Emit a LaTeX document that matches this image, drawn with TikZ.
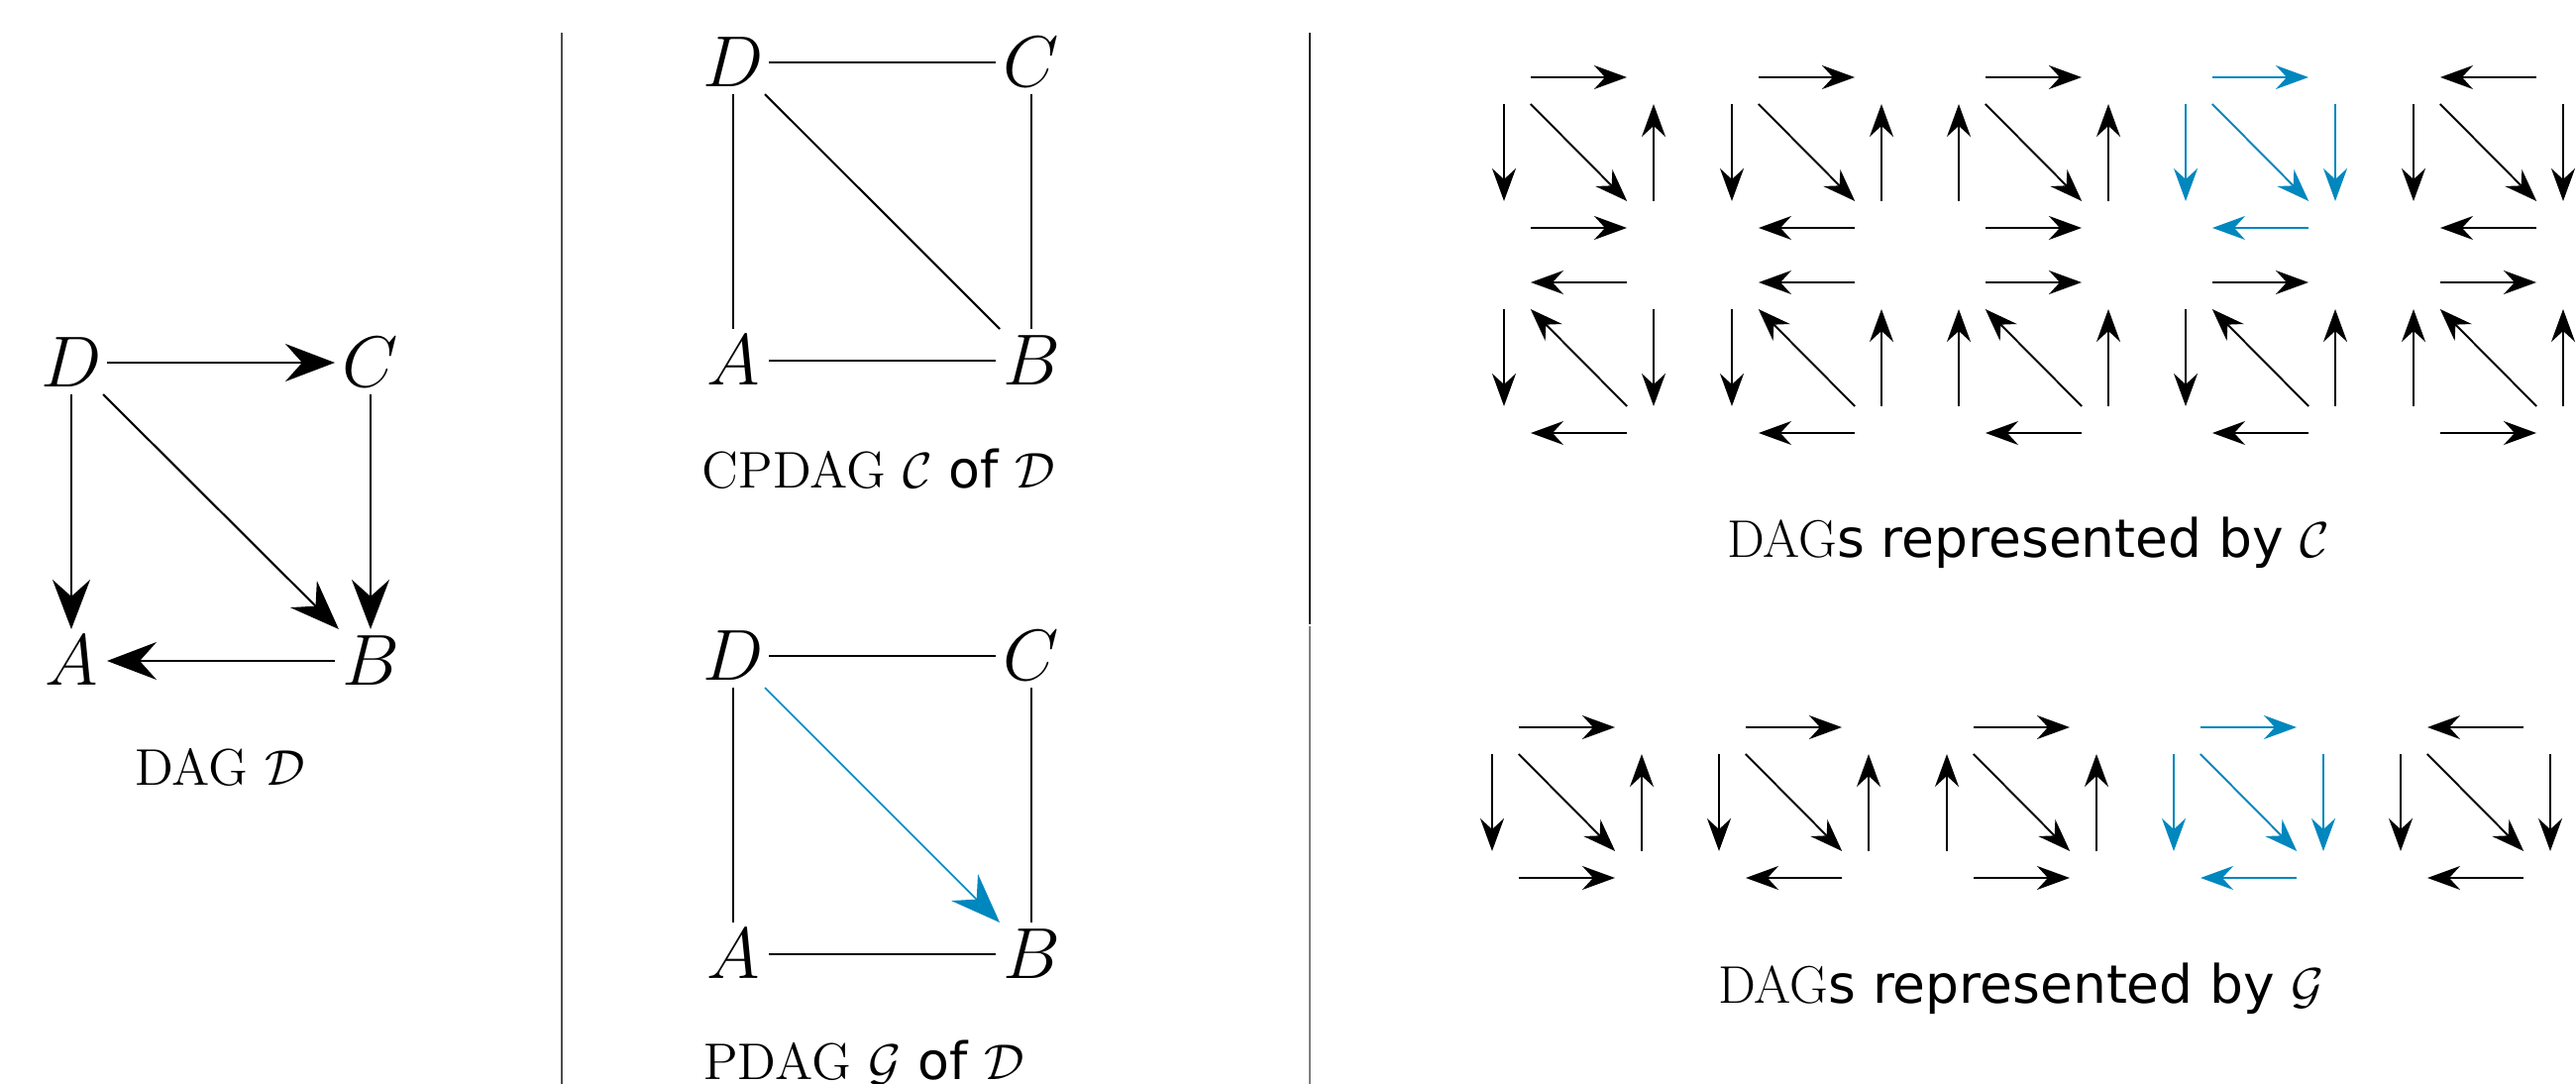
\documentclass[tikz,border=0pt]{standalone}
\usepackage{fontspec}
\newfontfamily\dvs{DejaVu Sans}
\usetikzlibrary{arrows.meta}
\definecolor{dblue}{HTML}{0087BE}
\newcommand\smalldag[9]{%
  \node[smallnode] (#1D) at (#2,#3) {};
  \node[smallnode] (#1C) at (#2+151,#3) {};
  \node[smallnode] (#1A) at (#2,#3+152) {};
  \node[smallnode] (#1B) at (#2+151,#3+152) {};
  \draw[smalledge,#9,#4] (#1D) -- (#1C);
  \draw[smalledge,#9,#5] (#1D) -- (#1A);
  \draw[smalledge,#9,#6] (#1D) -- (#1B);
  \draw[smalledge,#9,#7] (#1C) -- (#1B);
  \draw[smalledge,#9,#8] (#1A) -- (#1B);
}
\begin{document}
\begin{tikzpicture}[x=0.01cm,y=-0.01cm,
  bignode/.style={rectangle,inner sep=0pt,outer sep=0pt,minimum width=0.72cm,minimum height=0.64cm,font=\fontsize{22}{26}\selectfont},
  smallnode/.style={rectangle,inner sep=0pt,outer sep=0pt,minimum size=0.54cm},
  bigedge/.style={line width=0.6pt,>={Stealth[length=0.5cm,width=0.38cm,inset=0.17cm]}},
  smalledge/.style={line width=0.55pt,>={Stealth[length=0.33cm,width=0.24cm,inset=0.11cm]}},
  captext/.style={inner sep=0pt,anchor=base,font=\fontsize{14.8}{17}\selectfont},
  captextr/.style={inner sep=0pt,anchor=base,font=\fontsize{15.2}{18}\selectfont},
  ]
\useasboundingbox (0,0) rectangle (2600,1094);
\clip (0,0) rectangle (2600,1094);
% separators
\draw[line width=0.6pt,black!70] (567,33) -- (567,1094);
\draw[line width=0.6pt,black!85] (1322,33) -- (1322,630);
\draw[line width=0.6pt,black!50] (1322,632) -- (1322,1094);
% left DAG
\node[bignode] (lD) at (72,366) {$D$};
\node[bignode] (lC) at (374,366) {$C$};
\node[bignode] (lA) at (72,667) {$A$};
\node[bignode] (lB) at (374,667) {$B$};
\draw[bigedge,->] (lD) -- (lC);
\draw[bigedge,->] (lD) -- (lA);
\draw[bigedge,->] (lD) -- (lB);
\draw[bigedge,->] (lC) -- (lB);
\draw[bigedge,->] (lB) -- (lA);
\node[captext] (capL) at (222,792) {DAG $\mathcal{D}$};
% CPDAG
\node[bignode] (cD) at (740,63) {$D$};
\node[bignode] (cC) at (1041,63) {$C$};
\node[bignode] (cA) at (740,364) {$A$};
\node[bignode] (cB) at (1041,364) {$B$};
\draw[bigedge] (cD) -- (cC);
\draw[bigedge] (cD) -- (cA);
\draw[bigedge] (cD) -- (cB);
\draw[bigedge] (cC) -- (cB);
\draw[bigedge] (cA) -- (cB);
\node[captext] (capC) at (887,492) {CPDAG $\mathcal{C}$ {\dvs of} $\mathcal{D}$};
% PDAG
\node[bignode] (pD) at (740,662) {$D$};
\node[bignode] (pC) at (1041,662) {$C$};
\node[bignode] (pA) at (740,963) {$A$};
\node[bignode] (pB) at (1041,963) {$B$};
\draw[bigedge] (pD) -- (pC);
\draw[bigedge] (pD) -- (pA);
\draw[bigedge,->,dblue,line width=0.45pt] (pD) -- (pB);
\draw[bigedge] (pC) -- (pB);
\draw[bigedge] (pA) -- (pB);
\node[captext] (capP) at (872,1089) {PDAG $\mathcal{G}$ {\dvs of} $\mathcal{D}$};
% DAGs represented by C
\smalldag{ra}{1518}{78}{->}{->}{->}{<-}{->}{black}
\smalldag{rb}{1748}{78}{->}{->}{->}{<-}{<-}{black}
\smalldag{rc}{1977}{78}{->}{<-}{->}{<-}{->}{black}
\smalldag{rd}{2206}{78}{->}{->}{->}{->}{<-}{dblue}
\smalldag{re}{2436}{78}{<-}{->}{->}{->}{<-}{black}
\smalldag{sa}{1518}{285}{<-}{->}{<-}{->}{<-}{black}
\smalldag{sb}{1748}{285}{<-}{->}{<-}{<-}{<-}{black}
\smalldag{sc}{1977}{285}{->}{<-}{<-}{<-}{<-}{black}
\smalldag{sd}{2206}{285}{->}{->}{<-}{<-}{<-}{black}
\smalldag{sf}{2436}{285}{->}{<-}{<-}{<-}{->}{black}
\node[captextr] (capR1) at (2047,562) {DAG{\dvs s represented by} $\mathcal{C}$};
% DAGs represented by G
\smalldag{ga}{1506}{734}{->}{->}{->}{<-}{->}{black}
\smalldag{gb}{1735}{734}{->}{->}{->}{<-}{<-}{black}
\smalldag{gc}{1965}{734}{->}{<-}{->}{<-}{->}{black}
\smalldag{gd}{2194}{734}{->}{->}{->}{->}{<-}{dblue}
\smalldag{ge}{2423}{734}{<-}{->}{->}{->}{<-}{black}
\node[captextr] (capR2) at (2040,1012) {DAG{\dvs s represented by} $\mathcal{G}$};
\end{tikzpicture}
\end{document}
